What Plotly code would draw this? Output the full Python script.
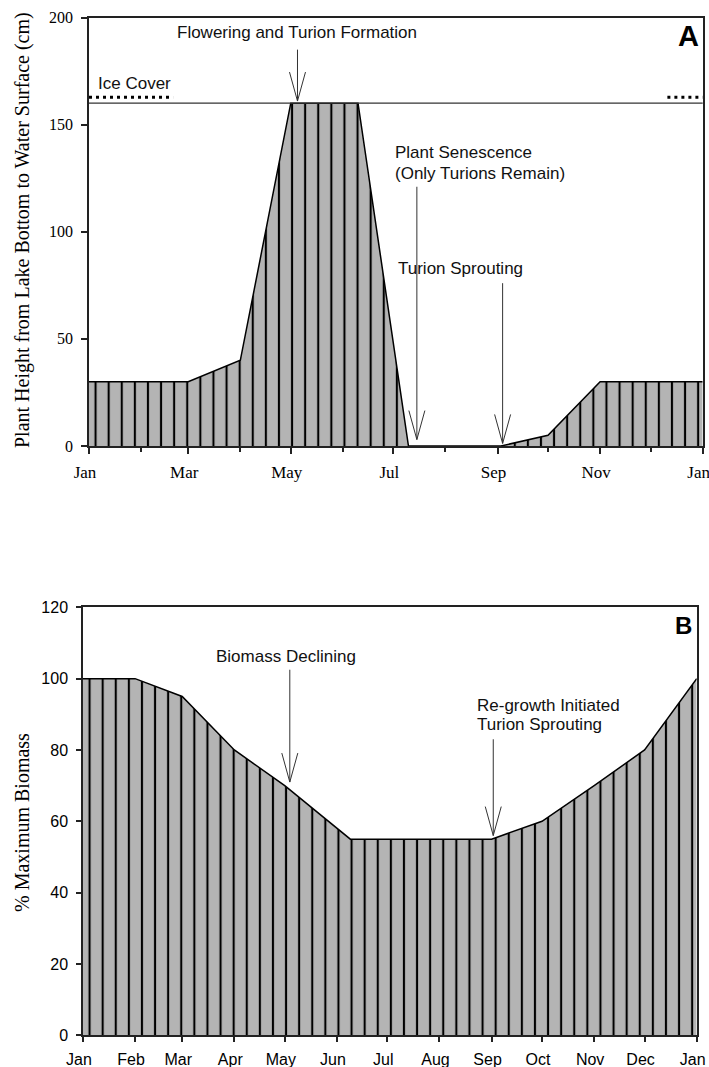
import plotly.graph_objects as go

W, H = 709, 1067

# ---------------- data ----------------
# Panel A: plant height (cm)
height_dates = ["2023-01-01", "2023-03-01", "2023-04-01", "2023-05-01", "2023-06-10",
                "2023-07-10", "2023-09-03", "2023-10-01", "2023-11-01", "2024-01-01"]
height_cm = [30, 30, 40, 160, 160, 0, 0, 5, 30, 30]

# Panel B: % maximum biomass
biomass_dates = ["2023-01-01", "2023-02-01", "2023-03-01", "2023-04-01", "2023-05-01",
                 "2023-06-09", "2023-09-01", "2023-10-01", "2023-11-01", "2023-12-01",
                 "2024-01-01"]
biomass_pct = [100, 100, 95, 80, 70, 55, 55, 60, 70, 80, 100]

# Ice cover and water surface (panel A)
ice_left = ["2023-01-01", "2023-02-20"]
ice_right = ["2023-12-11", "2024-01-01"]
ice_level = 162.8
water_surface = 160

# Axis ticks
month_ticks = ["2023-01-01", "2023-02-01", "2023-03-01", "2023-04-01", "2023-05-01",
               "2023-06-01", "2023-07-01", "2023-08-01", "2023-09-01", "2023-10-01",
               "2023-11-01", "2023-12-01", "2024-01-01"]
month_labels = ["Jan", "Feb", "Mar", "Apr", "May", "Jun", "Jul", "Aug", "Sep", "Oct",
                "Nov", "Dec", "Jan"]
height_ticks = [0, 50, 100, 150, 200]
biomass_ticks = [0, 20, 40, 60, 80, 100, 120]

# Arrows: tip date, tip value, stem-top value
arrowsA_date = ["2023-05-05", "2023-07-15", "2023-09-04"]
arrowsA_tip = [161, 3, 1.2]
arrowsA_top = [185, 121, 76]
arrowsB_date = ["2023-05-04", "2023-09-02"]
arrowsB_tip = [71, 56]
arrowsB_top = [102.5, 83]

# Text labels: (text, date, value, xanchor)
labelsA = [("Flowering and Turion Formation", "2023-05-05", 193.2, "center"),
           ("Ice Cover", "2023-01-05", 169.4, "left"),
           ("Plant Senescence", "2023-07-01", 136.8, "left"),
           ("(Only Turions Remain)", "2023-07-01", 127.4, "left"),
           ("Turion Sprouting", "2023-08-10", 83, "center")]
labelsB = [("Biomass Declining", "2023-05-02", 106.3, "center"),
           ("Re-growth Initiated", "2023-08-22", 92.6, "left"),
           ("Turion Sprouting", "2023-08-22", 87.1, "left")]

# ---------------- layout geometry (pixels -> paper) ----------------
def px_x(p):
    return p / W

def px_y(p):
    return (H - p) / H

domA_x = [px_x(89), px_x(702.7)]
domA_y = [px_y(446), px_y(17.5)]
domB_x = [px_x(83), px_x(696.7)]
domB_y = [px_y(1035.3), px_y(607.3)]

GRAY = "#b4b4b4"
AX = "#222222"
SANS = "Liberation Sans, Arial, sans-serif"
SERIF = "Liberation Serif, Times New Roman, serif"

fig = go.Figure()

pattern = dict(shape="|", size=13.1, solidity=0.16, fgcolor="black",
               bgcolor=GRAY, fgopacity=1, fillmode="replace")

fig.add_trace(go.Scatter(x=height_dates, y=height_cm, mode="lines", fill="tozeroy",
                         fillcolor=GRAY, fillpattern=pattern,
                         line=dict(color="black", width=1.5),
                         xaxis="x", yaxis="y", hoverinfo="skip"))
fig.add_trace(go.Scatter(x=biomass_dates, y=biomass_pct, mode="lines", fill="tozeroy",
                         fillcolor=GRAY, fillpattern=pattern,
                         line=dict(color="black", width=1.5),
                         xaxis="x2", yaxis="y2", hoverinfo="skip"))

# Ice cover dotted lines
fig.add_trace(go.Scatter(x=ice_left + [None] + ice_right,
                         y=[ice_level, ice_level, None, ice_level, ice_level],
                         mode="lines", line=dict(color="black", width=3, dash="3px,4px"),
                         xaxis="x", yaxis="y", hoverinfo="skip"))

shapes = []
# water surface line
shapes.append(dict(type="line", xref="x domain", yref="y", x0=0, x1=1,
                   y0=water_surface, y1=water_surface,
                   line=dict(color="#333333", width=1.2)))

def add_arrow(xr, yr, d, tip, top):
    shapes.append(dict(type="line", xref=xr, yref=yr, x0=d, x1=d, y0=tip, y1=top,
                       line=dict(color="#333333", width=1)))
    for sx in (-8, 8):
        shapes.append(dict(type="line", xref=xr, yref=yr, xsizemode="pixel",
                           ysizemode="pixel", xanchor=d, yanchor=tip,
                           x0=0, y0=0, x1=sx, y1=29,
                           line=dict(color="#333333", width=1)))

for d, t, tp in zip(arrowsA_date, arrowsA_tip, arrowsA_top):
    add_arrow("x", "y", d, t, tp)
for d, t, tp in zip(arrowsB_date, arrowsB_tip, arrowsB_top):
    add_arrow("x2", "y2", d, t, tp)

annotations = []
for txt, d, v, xa in labelsA:
    annotations.append(dict(text=txt, x=d, y=v, xref="x", yref="y", showarrow=False,
                            xanchor=xa, yanchor="middle",
                            font=dict(family=SANS, size=17, color="#111111")))
for txt, d, v, xa in labelsB:
    annotations.append(dict(text=txt, x=d, y=v, xref="x2", yref="y2", showarrow=False,
                            xanchor=xa, yanchor="middle",
                            font=dict(family=SANS, size=17, color="#111111")))

# Panel letters
annotations.append(dict(text="<b>A</b>", x=px_x(701), y=px_y(35.5), xref="paper",
                        yref="paper", showarrow=False, xanchor="right", yanchor="middle",
                        font=dict(family=SANS, size=29, color="black")))
annotations.append(dict(text="<b>B</b>", x=px_x(694), y=px_y(625.5), xref="paper",
                        yref="paper", showarrow=False, xanchor="right", yanchor="middle",
                        font=dict(family=SANS, size=24, color="black")))

# Y axis titles
annotations.append(dict(text="Plant Height from Lake Bottom to Water Surface (cm)",
                        x=px_x(22), y=px_y(230), xref="paper", yref="paper",
                        showarrow=False, textangle=-90, xanchor="center", yanchor="middle",
                        font=dict(family=SERIF, size=20, color="black")))
annotations.append(dict(text="% Maximum Biomass",
                        x=px_x(22), y=px_y(823), xref="paper", yref="paper",
                        showarrow=False, textangle=-90, xanchor="center", yanchor="middle",
                        font=dict(family=SERIF, size=20, color="black")))

axis_common = dict(showline=True, linecolor=AX, linewidth=1.5, mirror=True,
                   ticks="outside", tickwidth=1.5, tickcolor=AX, automargin=False,
                   showgrid=False, zeroline=False, fixedrange=True)

fig.update_layout(
    width=W, height=H,
    margin=dict(l=0, r=0, t=0, b=0, pad=0, autoexpand=False),
    paper_bgcolor="white", plot_bgcolor="white",
    showlegend=False,
    xaxis=dict(type="date", domain=domA_x, anchor="y",
               range=[month_ticks[0], month_ticks[-1]],
               tickmode="array", tickvals=month_ticks[::2], ticktext=month_labels[::2],
               ticklen=6, ticklabelstandoff=4, ticklabelshift=-4,
               ticklabeloverflow="allow",
               tickfont=dict(family=SERIF, size=17, color="black"),
               minor=dict(tickmode="array", tickvals=month_ticks[1::2], ticks="outside",
                          ticklen=4, tickwidth=1.5, tickcolor=AX, showgrid=False),
               **axis_common),
    yaxis=dict(domain=domA_y, anchor="x", range=[0, 200],
               tickmode="array", tickvals=height_ticks,
               ticklen=6, ticklabelstandoff=5,
               tickfont=dict(family=SERIF, size=16, color="black"),
               **axis_common),
    xaxis2=dict(type="date", domain=domB_x, anchor="y2",
                range=[month_ticks[0], month_ticks[-1]],
                tickmode="array", tickvals=month_ticks, ticktext=month_labels,
                ticklen=5, ticklabelstandoff=4, ticklabelshift=-4,
                ticklabeloverflow="allow",
                tickfont=dict(family=SANS, size=16, color="black"),
                **axis_common),
    yaxis2=dict(domain=domB_y, anchor="x2", range=[0, 120],
                tickmode="array", tickvals=biomass_ticks,
                ticklen=5, ticklabelstandoff=5,
                tickfont=dict(family=SANS, size=16, color="black"),
                **axis_common),
    shapes=shapes,
    annotations=annotations,
)

# Remove the default page margin so the 709x1067 figure fills the window exactly.
fig.write_html("out.html", config={"responsive": False, "displayModeBar": False},
               post_script="document.body.style.margin='0';"
                           "document.body.style.overflow='hidden';")
